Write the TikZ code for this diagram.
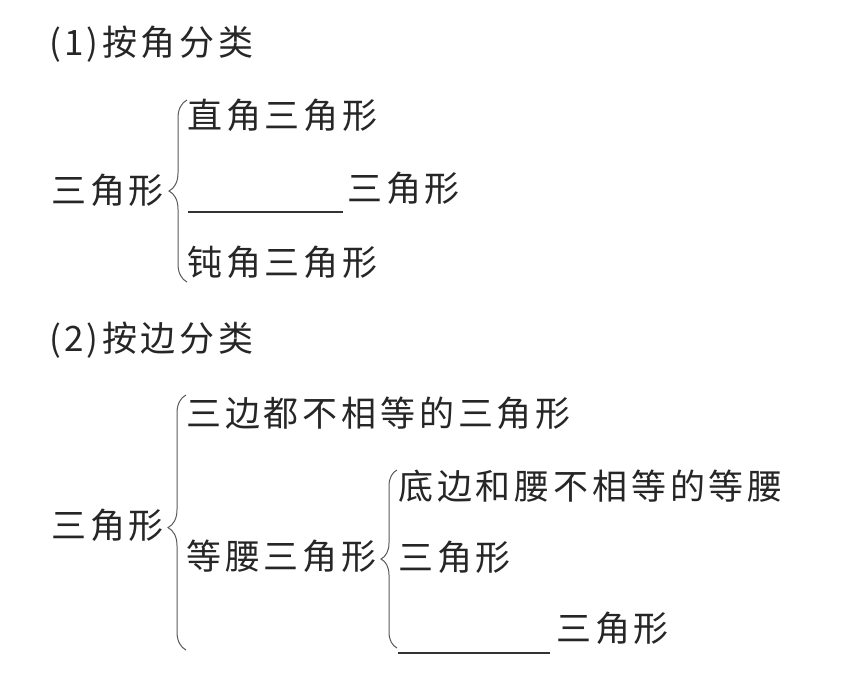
\documentclass[tikz,border=0pt]{standalone}
\usepackage{fontspec}
\setmainfont{Noto Sans CJK SC}
\usetikzlibrary{decorations.pathreplacing}
\begin{document}
\begin{tikzpicture}[x=1pt, y=-1pt]
  \tikzset{
    txt/.style={anchor=base west, inner sep=0pt, text=black!85,
      font=\fontsize{35}{40}\selectfont\addfontfeature{LetterSpace=11}},
    bracebar/.style={decorate, decoration={brace, amplitude=#1},
      draw=black!65, line width=1pt},
    blankline/.style={draw=black!80, line width=1.1pt}
  }
  \useasboundingbox (0,0) rectangle (849,678);

  % (1) by angles
  \node[txt] (headA) at (49, 55) {(\kern3pt 1\kern3pt)按角分类};
  \node[txt] (rootA) at (51, 203) {三角形};
  \node[txt] (right) at (187, 128) {直角三角形};
  \coordinate (blankAl) at (188, 212);
  \coordinate (blankAr) at (343, 212);
  \node[txt] (acute) at (347, 201) {三角形};
  \node[txt] (obtuse) at (187, 275) {钝角三角形};

  \draw[bracebar=18pt] (187, 282) -- (187, 100);
  \draw[blankline] (blankAl) -- (blankAr);

  % (2) by sides
  \node[txt] (headB) at (49, 351) {(\kern3pt 2\kern3pt)按边分类};
  \node[txt] (rootB) at (51, 538) {三角形};
  \node[txt] (scalene) at (186, 426) {三边都不相等的三角形};
  \node[txt] (isos) at (186, 569) {等腰三角形};
  \node[txt] (isosA) at (398, 499) {底边和腰不相等的等腰};
  \node[txt] (isosB) at (398, 570) {三角形};
  \coordinate (blankBl) at (398, 653);
  \coordinate (blankBr) at (550, 653);
  \node[txt] (equil) at (556, 641) {三角形};

  \draw[bracebar=18pt, decoration={aspect=0.48}] (186, 650) -- (186, 395);
  \draw[bracebar=16pt] (397, 648) -- (397, 470);
  \draw[blankline] (blankBl) -- (blankBr);
\end{tikzpicture}
\end{document}
